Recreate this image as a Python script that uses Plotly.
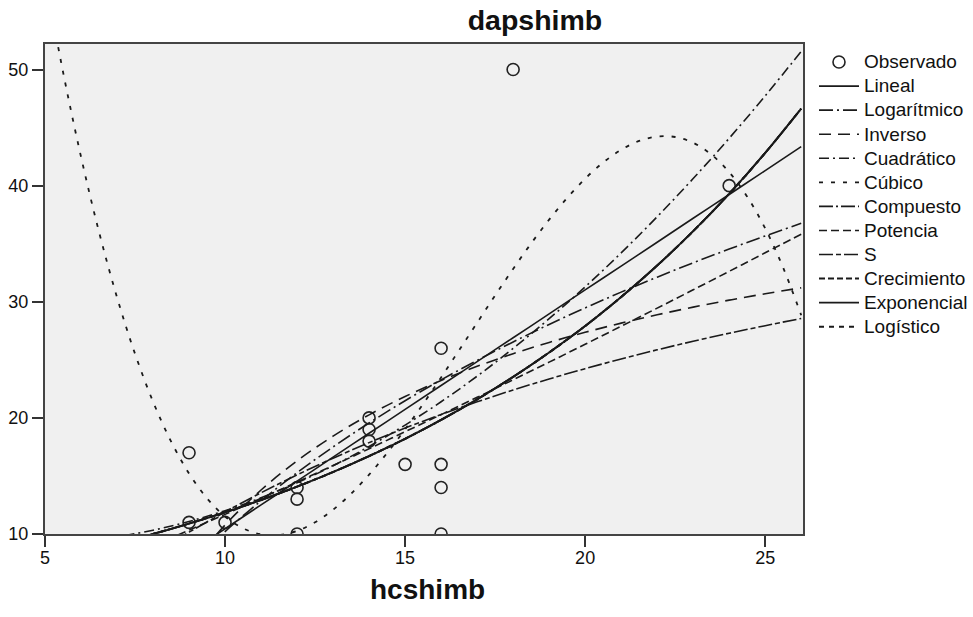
import plotly.graph_objects as go

# Observed data
obs_x = [9, 9, 10, 12, 12, 12, 14, 14, 14, 15, 16, 16, 16, 16, 18, 24]
obs_y = [17, 11, 11, 10, 13, 14, 20, 19, 18, 16, 26, 16, 14, 10, 50, 40]

# Fitted curves, values read along the x grid
fit_x = [5, 6, 7, 8, 9, 10, 11, 12, 13, 14, 15, 16, 17, 18, 19, 20, 21, 22, 23, 24, 25, 26]
lineal = [0.17, 2.22, 4.28, 6.34, 8.39, 10.45, 12.51, 14.56, 16.62, 18.68, 20.73, 22.79,
          24.85, 26.90, 28.96, 31.02, 33.07, 35.13, 37.19, 39.24, 41.30, 43.36]
logaritmico = [-9.05, -3.99, 0.30, 4.01, 7.28, 10.21, 12.86, 15.28, 17.50, 19.56, 21.48, 23.27,
               24.95, 26.54, 28.05, 29.47, 30.83, 32.12, 33.36, 34.54, 35.67, 36.76]
inverso = [-22.44, -11.37, -3.46, 2.47, 7.08, 10.77, 13.79, 16.30, 18.43, 20.26, 21.84, 23.22,
           24.44, 25.53, 26.50, 27.37, 28.16, 28.88, 29.54, 30.14, 30.69, 31.20]
cuadratico = [9.17, 9.38, 9.76, 10.33, 11.08, 12.01, 13.12, 14.41, 15.88, 17.54, 19.38, 21.39,
              23.59, 25.98, 28.54, 31.28, 34.21, 37.32, 40.61, 44.08, 47.73, 51.57]
compuesto = [7.74, 8.43, 9.18, 10.00, 10.90, 11.87, 12.93, 14.08, 15.34, 16.71, 18.20, 19.83,
             21.60, 23.53, 25.63, 27.91, 30.41, 33.12, 36.08, 39.30, 42.82, 46.64]
potencia = [5.19, 6.42, 7.70, 9.00, 10.33, 11.69, 13.07, 14.48, 15.90, 17.34, 18.81, 20.28,
            21.77, 23.28, 24.80, 26.34, 27.89, 29.45, 31.03, 32.62, 34.22, 35.82]
s_curve = [2.87, 4.61, 6.47, 8.34, 10.16, 11.90, 13.55, 15.09, 16.53, 17.87, 19.12, 20.29,
           21.38, 22.40, 23.35, 24.24, 25.07, 25.86, 26.60, 27.29, 27.94, 28.56]
crecimiento = compuesto
exponencial = compuesto
logistico = compuesto

cubic_x = [5, 5.5, 6, 6.5, 7, 7.5, 8, 8.5, 9, 9.5, 10, 10.5, 11, 11.5, 12, 12.5, 13, 13.5, 14,
           14.5, 15, 15.5, 16, 16.5, 17, 17.5, 18, 18.5, 19, 19.5, 20, 20.5, 21, 21.5, 22, 22.5,
           23, 23.5, 24, 24.5, 25, 25.5, 26]
cubico = [58.03, 49.81, 42.49, 36.02, 30.38, 25.52, 21.40, 17.98, 15.21, 13.07, 11.51, 10.49,
          9.97, 9.91, 10.27, 11.01, 12.09, 13.47, 15.11, 16.97, 19.01, 21.20, 23.48, 25.83,
          28.19, 30.54, 32.83, 35.02, 37.07, 38.94, 40.60, 41.99, 43.09, 43.85, 44.23, 44.19,
          43.69, 42.69, 41.16, 39.05, 36.32, 32.93, 28.84]

x_ticks = [5, 10, 15, 20, 25]
y_ticks = [10, 20, 30, 40, 50]

FONT = "Liberation Sans"
INK = "#1a1a1a"


def legend_label(text):
    return f"<span style='font-size:19px'>{text}</span>"


fig = go.Figure()
fig.add_trace(go.Scatter(
    x=obs_x, y=obs_y, mode="markers", name=legend_label("Observado"),
    marker=dict(symbol="circle-open", size=12, color="#222", line=dict(width=1.6))))

curves = [
    ("Lineal", fit_x, lineal, "solid", 1.6),
    ("Logarítmico", fit_x, logaritmico, "14px,4px,2px,4px", 1.6),
    ("Inverso", fit_x, inverso, "12px,7px", 1.6),
    ("Cuadrático", fit_x, cuadratico, "10px,4px,2px,4px", 1.6),
    ("Cúbico", cubic_x, cubico, "4px,8px", 1.8),
    ("Compuesto", fit_x, compuesto, "14px,3px,2px,3px", 1.9),
    ("Potencia", fit_x, potencia, "8px,4px", 1.6),
    ("S", fit_x, s_curve, "14px,3px,5px,3px", 1.6),
    ("Crecimiento", fit_x, crecimiento, "6px,3px", 1.9),
    ("Exponencial", fit_x, exponencial, "solid", 1.9),
    ("Logístico", fit_x, logistico, "5px,5px", 1.9),
]
for name, xs, ys, dash, w in curves:
    fig.add_trace(go.Scatter(
        x=xs, y=ys, mode="lines", name=legend_label(name), line_shape="spline",
        line=dict(color=INK, width=w, dash=dash)))

axis_common = dict(
    showgrid=False, zeroline=False, showline=True, linewidth=2, linecolor="#444",
    mirror=True, ticks="outside", ticklen=11, tickwidth=2, tickcolor="#333",
    automargin=False,
    tickfont=dict(family=FONT, size=18, color="#111"))

fig.update_xaxes(range=[5, 26.05], tickvals=x_ticks, ticklabelstandoff=-5, **axis_common)
fig.update_yaxes(range=[10, 52.2], tickvals=y_ticks, **axis_common)

fig.add_annotation(text="<b>hcshimb</b>", xref="paper", yref="paper", x=0.505, y=0,
                   yanchor="middle", yshift=-55, showarrow=False,
                   font=dict(family=FONT, size=28, color="#111"))

fig.update_layout(
    width=973, height=617,
    margin=dict(l=45, r=170, t=44, b=83, autoexpand=False),
    plot_bgcolor="#F0F0F0", paper_bgcolor="white",
    title=dict(text="<b>dapshimb</b>", x=535 / 973, xref="container", xanchor="center",
               y=1 - 20 / 617, yref="container", yanchor="middle",
               font=dict(family=FONT, size=28.5, color="#111")),
    legend=dict(x=814 / 973, y=1 - 45 / 617, xref="container", yref="container",
                xanchor="left", yanchor="top",
                font=dict(family=FONT, size=16.2, color="#111"),
                bgcolor="rgba(0,0,0,0)", itemwidth=40, tracegroupgap=0),
    showlegend=True,
)

fig.write_html("out.html", config={"displayModeBar": False})
